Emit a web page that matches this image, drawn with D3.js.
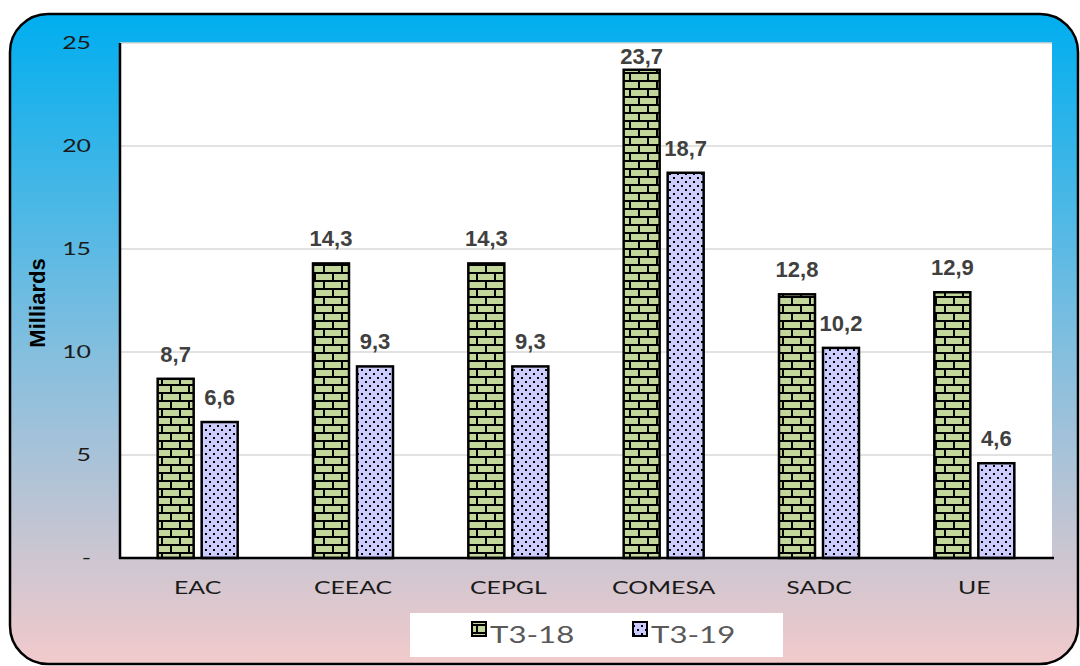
<!DOCTYPE html>
<html><head><meta charset="utf-8">
<script src="https://cdn.jsdelivr.net/npm/d3@7/dist/d3.min.js"></script>
<style>body{margin:0;background:#fff}svg{display:block}</style>
</head><body>
<svg id="c" width="1080" height="666"></svg>
<script>
const categories = ["EAC","CEEAC","CEPGL","COMESA","SADC","UE"];
const seriesNames = ["T3-18","T3-19"];
const t318 = [8.7,14.3,14.3,23.7,12.8,12.9];
const t319 = [6.6,9.3,9.3,18.7,10.2,4.6];
const yTicks = [0,5,10,15,20,25];

const svg = d3.select("#c");
const defs = svg.append("defs");
const g = defs.append("linearGradient").attr("id","bg").attr("x1",0).attr("y1",0).attr("x2",0).attr("y2",1);
g.append("stop").attr("offset","0%").attr("stop-color","#00AEEF");
g.append("stop").attr("offset","50%").attr("stop-color","#7FBEDF");
g.append("stop").attr("offset","100%").attr("stop-color","#F2CACB");

// brick pattern
const pb = defs.append("pattern").attr("id","brick").attr("patternUnits","userSpaceOnUse")
  .attr("width",18).attr("height",16).attr("x",0).attr("y",0);
pb.append("rect").attr("width",18).attr("height",16).attr("fill","#C4D79B");
pb.append("rect").attr("x",0).attr("y",0).attr("width",18).attr("height",2).attr("fill","#000");
pb.append("rect").attr("x",0).attr("y",8).attr("width",18).attr("height",2).attr("fill","#000");
pb.append("rect").attr("x",8).attr("y",0).attr("width",2).attr("height",8).attr("fill","#000");
pb.append("rect").attr("x",0).attr("y",8).attr("width",1).attr("height",8).attr("fill","#000");
pb.append("rect").attr("x",17).attr("y",8).attr("width",1).attr("height",8).attr("fill","#000");

// dotted pattern
const pd = defs.append("pattern").attr("id","dots").attr("patternUnits","userSpaceOnUse")
  .attr("width",8).attr("height",8);
pd.append("rect").attr("width",8).attr("height",8).attr("fill","#CCCCFF");
pd.append("rect").attr("x",1).attr("y",1).attr("width",2).attr("height",2).attr("fill","#000");
pd.append("rect").attr("x",5).attr("y",5).attr("width",2).attr("height",2).attr("fill","#000");

svg.append("rect").attr("x",10).attr("y",14).attr("width",1068).attr("height",650)
  .attr("rx",38).attr("ry",38).attr("fill","url(#bg)").attr("stroke","#000").attr("stroke-width",2.5);

const L=120, R=1052, T=43, B=558;
svg.append("rect").attr("x",L).attr("y",T).attr("width",R-L).attr("height",B-T).attr("fill","#fff");

const y = d3.scaleLinear().domain([0,25]).range([B,T]);
const x0 = d3.scaleBand().domain(categories).range([L,R]);
const bw = 36, gap = 8;
const SX = 1.38;
const lightFont = "Lato, 'Open Sans', sans-serif";

// grid
svg.append("g").selectAll("line").data(yTicks.filter(d=>d>0)).join("line")
  .attr("x1",L).attr("x2",R).attr("y1",d=>y(d)).attr("y2",d=>y(d))
  .attr("stroke","#D9D9D9").attr("stroke-width",1.5);

// y axis labels
svg.append("g").selectAll("text").data(yTicks).join("text")
  .attr("transform",d=>`translate(91,${y(d)}) scale(${SX},1)`).attr("dy","0.35em").attr("text-anchor","end")
  .attr("font-family",lightFont).attr("font-size",18).attr("fill","#1a1a1a")
  .text(d=>d===0?"-":d);

svg.append("text").attr("transform","translate(45,303) rotate(-90)").attr("text-anchor","middle")
  .attr("font-family","'Liberation Sans', Arial, sans-serif").attr("font-weight","bold").attr("font-size",22)
  .attr("fill","#000").text("Milliards");

// bars
const series = [{name:seriesNames[0],vals:t318,fill:"url(#brick)",off:-(bw+gap/2)},
                {name:seriesNames[1],vals:t319,fill:"url(#dots)",off:gap/2}];
series.forEach(s=>{
  const gg = svg.append("g");
  gg.selectAll("rect").data(categories).join("rect")
    .attr("x",(c)=>x0(c)+x0.bandwidth()/2+s.off).attr("width",bw)
    .attr("y",(c,i)=>y(s.vals[i])).attr("height",(c,i)=>B-y(s.vals[i]))
    .attr("fill",s.fill).attr("stroke","#000").attr("stroke-width",2.5);
  gg.selectAll("text").data(categories).join("text")
    .attr("x",(c)=>x0(c)+x0.bandwidth()/2+s.off+bw/2)
    .attr("y",(c,i)=>Math.max(y(s.vals[i])-17, T+21))
    .attr("text-anchor","middle")
    .attr("font-family","'Liberation Sans Narrow','Arial Narrow','Liberation Sans',sans-serif")
    .attr("font-weight","bold").attr("font-size",22).attr("fill","#404040")
    .text((c,i)=>String(s.vals[i]).replace(".",","));
});

// axes lines
svg.append("line").attr("x1",L).attr("x2",L).attr("y1",T).attr("y2",B+1).attr("stroke","#000").attr("stroke-width",2.5);
svg.append("line").attr("x1",L-1).attr("x2",R+2).attr("y1",B).attr("y2",B).attr("stroke","#000").attr("stroke-width",2.5);

// x labels
svg.append("g").selectAll("text").data(categories).join("text")
  .attr("transform",c=>`translate(${x0(c)+x0.bandwidth()/2},594) scale(${SX},1)`).attr("text-anchor","middle")
  .attr("font-family",lightFont).attr("font-size",18).attr("fill","#1a1a1a")
  .text(c=>c);

// legend
svg.append("rect").attr("x",410).attr("y",613).attr("width",373).attr("height",44).attr("fill","#fff");
const leg = [{n:seriesNames[0],x:471,fill:"url(#brick)"},{n:seriesNames[1],x:632,fill:"url(#dots)"}];
leg.forEach(l=>{
  svg.append("rect").attr("x",l.x+1).attr("y",622).attr("width",14).attr("height",14)
    .attr("fill",l.fill).attr("stroke","#000").attr("stroke-width",2);
  svg.append("text").attr("transform",`translate(${l.x+19},643) scale(1.3,1)`)
    .attr("font-family",lightFont).attr("font-size",24).attr("fill","#595959").text(l.n);
});
</script>
</body></html>
